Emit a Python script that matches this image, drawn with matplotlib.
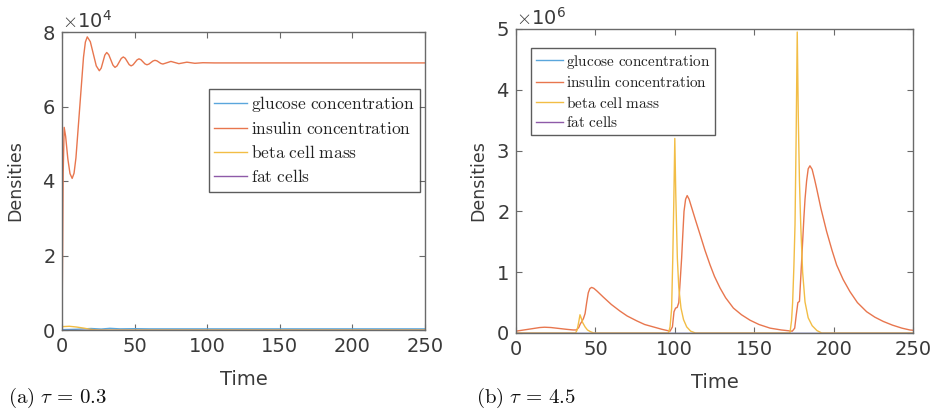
import matplotlib
matplotlib.use("Agg")
import matplotlib.pyplot as plt
from matplotlib.ticker import ScalarFormatter

plt.rcParams['mathtext.fontset'] = 'cm'
plt.rcParams['font.family'] = ['DejaVu Sans']

# ---------------- data: panel (a) tau = 0.3 ----------------
ta_ins = [0, 0.4, 0.8, 1.5, 2.5, 4.0, 5.5, 7.0, 8.3, 9.6, 12.2, 14.8, 16.1, 17.4,
          19.5, 21.55, 23.6, 25.7, 27.0, 28.25, 29.5, 30.8, 32.2, 33.65, 35.1, 36.5,
          37.9, 39.35, 40.8, 42.2, 43.55, 44.9, 46.25, 47.6, 48.95, 50.3, 51.65, 53.0,
          54.4, 55.75, 57.1, 58.5, 59.9, 61.25, 62.6, 64.0, 65.4, 66.75, 68.1, 69.5,
          72.25, 75.0, 77.75, 80.5, 83.25, 86.0, 88.75, 91.5, 97.0, 105.0, 250.0]
va_ins = [0, 20000, 42000, 54400, 52000, 46000, 42000, 40700, 42100, 46200, 59700, 73200, 77300, 78700,
          77400, 74150, 70900, 69600, 70300, 72050, 73800, 74500, 73900, 72500, 71100, 70500,
          70900, 71900, 72900, 73300, 72950, 72100, 71250, 70900, 71200, 71850, 72500, 72800,
          72550, 72000, 71450, 71200, 71400, 71800, 72200, 72400, 72250, 71900, 71550, 71400,
          71750, 72100, 71800, 71500, 71700, 71900, 71750, 71600, 71750, 71700, 71700]

ta_glu = [0, 10, 20, 27, 33, 40, 50, 60, 250]
va_glu = [100, 200, 400, 250, 450, 300, 350, 300, 300]

ta_beta = [0, 5, 10, 15, 20, 25, 250]
va_beta = [900, 1000, 800, 500, 150, 0, 0]

ta_fat = [0, 250]
va_fat = [0, 0]

# ---------------- data: panel (b) tau = 4.5 ----------------
tb_ins = [0, 5, 10, 15, 18, 22, 27, 32, 36, 38, 39.5, 40.5, 41.5, 42.5, 43.5, 44.5, 45.5,
          46.5, 47.6, 49, 51, 55, 60, 65.5, 70, 76, 81, 86.5, 92, 97,
          98.5, 99.5, 100.5, 101.5, 102.5, 103.5, 104.3, 105, 105.8, 106.8, 107.8, 109, 111,
          113, 115.9, 119, 122.2, 125, 128.5, 132, 136.9, 142, 147.4, 153, 160, 167, 174,
          175.5, 176.5, 177.5, 178.5, 179.5, 180.5, 181.3, 182, 183, 184, 185.1, 186.5, 188,
          189.3, 192, 195.6, 199, 201.9, 206, 210.3, 215, 220.8, 226, 231.3, 237, 243, 248, 250]
vb_ins = [0.03, 0.05, 0.07, 0.09, 0.095, 0.09, 0.075, 0.06, 0.05, 0.05, 0.09, 0.15, 0.19, 0.24, 0.32, 0.5, 0.66,
          0.73, 0.75, 0.735, 0.69, 0.59, 0.47, 0.36, 0.28, 0.2, 0.14, 0.1, 0.06, 0.03,
          0.1, 0.35, 0.41, 0.42, 0.5, 0.9, 1.23, 1.6, 2.0, 2.2, 2.26, 2.2, 2.03,
          1.86, 1.62, 1.36, 1.12, 0.93, 0.74, 0.58, 0.41, 0.3, 0.21, 0.14, 0.08, 0.05, 0.03,
          0.08, 0.3, 0.5, 0.52, 1.0, 1.5, 1.9, 2.2, 2.5, 2.7, 2.75, 2.69, 2.53,
          2.38, 2.05, 1.67, 1.36, 1.12, 0.88, 0.68, 0.5, 0.35, 0.26, 0.19, 0.13, 0.08, 0.05, 0.045]
vb_ins = [v * 1e6 for v in vb_ins]

tb_beta = [0, 37.5, 38.5, 39.5, 40.3, 41, 42, 43.5, 45, 47, 49,
           96, 97, 98, 98.7, 99.4, 100, 100.6, 101.6, 102.5, 103.9, 105.5, 107.5, 110, 113,
           172.5, 173.5, 174.2, 175, 175.7, 176.4, 177.1, 177.8, 178.5, 179.3, 180.5, 182, 184,
           186.5, 189.5, 192.5, 250]
vb_beta = [0, 0, 0.05, 0.18, 0.3, 0.25, 0.17, 0.1, 0.05, 0.02, 0,
           0, 0.1, 0.4, 1.2, 2.2, 3.2, 2.3, 1.23, 0.75, 0.41, 0.22, 0.1, 0.03, 0,
           0, 0.2, 0.5, 1.1, 1.78, 3.2, 4.95, 3.5, 2.5, 1.78, 1.0, 0.51, 0.25,
           0.12, 0.04, 0, 0]
vb_beta = [v * 1e6 for v in vb_beta]

tb_glu = [0, 250]
vb_glu = [0, 0]
tb_fat = [0, 250]
vb_fat = [0, 0]

labels = ['glucose concentration', 'insulin concentration', 'beta cell mass', 'fat cells']
colors = ['#5aa6dc', '#e8764e', '#f2bd45', '#8e5aa8']
captions = [r'$\mathrm{(a)}\ \tau\,=\,0.3$', r'$\mathrm{(b)}\ \tau\,=\,4.5$']

W, H = 931, 413
fig = plt.figure(figsize=(W / 100, H / 100), dpi=100)

def px_axes(l, t, r, b):
    return fig.add_axes([l / W, 1 - b / H, (r - l) / W, (b - t) / H])

axA = px_axes(62, 32, 425, 330)
axB = px_axes(516, 29, 913, 333)

lw = 1.0
for ax, series in [
    (axA, [(ta_glu, va_glu), (ta_ins, va_ins), (ta_beta, va_beta), (ta_fat, va_fat)]),
    (axB, [(tb_glu, vb_glu), (tb_ins, vb_ins), (tb_beta, vb_beta), (tb_fat, vb_fat)]),
]:
    for (t, v), c, lab in zip(series, colors, labels):
        ax.plot(t, v, color=c, lw=lw, label=r'$\mathrm{' + lab.replace(' ', r'\ ') + '}$')

axA.set_xlim(0, 250)
axA.set_ylim(0, 80000)
axA.set_yticks([0, 20000, 40000, 60000, 80000])
axB.set_xlim(0, 250)
axB.set_ylim(0, 5e6)
axB.set_yticks([0, 1e6, 2e6, 3e6, 4e6, 5e6])

spine_col = '#6a6a6a'
text_col = '#3a3a3a'
for ax in (axA, axB):
    ax.set_xticks([0, 50, 100, 150, 200, 250])
    fmt = ScalarFormatter(useMathText=True)
    fmt.set_powerlimits((0, 0))
    ax.yaxis.set_major_formatter(fmt)
    ax.tick_params(direction='in', top=True, right=True, length=4, width=0.8,
                   color=spine_col, labelsize=14, labelcolor=text_col, pad=5)
    for s in ax.spines.values():
        s.set_color(spine_col)
        s.set_linewidth(1.0)
    ax.yaxis.get_offset_text().set_fontsize(14)
    ax.yaxis.get_offset_text().set_color(text_col)
    ax.set_xlabel('Time', fontsize=14, color=text_col, labelpad=10)
    ax.set_ylabel('Densities', fontsize=12.5, color=text_col)

axA.yaxis.set_label_coords((24 - 62) / 363, 0.5)
axB.yaxis.set_label_coords((487 - 516) / 397, 0.5)

legA = axA.legend(loc='upper right', bbox_to_anchor=((420 - 62) / 363, (330 - 89) / 298),
                  fontsize=12.5, frameon=True, fancybox=False, handlelength=1.9,
                  handletextpad=0.2, labelspacing=0.35, borderpad=0.3, borderaxespad=0)
legB = axB.legend(loc='upper left', bbox_to_anchor=((531 - 516) / 397, (333 - 48) / 304),
                  fontsize=11, frameon=True, fancybox=False, handlelength=1.8,
                  handletextpad=0.2, labelspacing=0.3, borderpad=0.3, borderaxespad=0)
for leg in (legA, legB):
    fr = leg.get_frame()
    fr.set_edgecolor('#333333')
    fr.set_linewidth(1.0)
    for t in leg.get_texts():
        t.set_color('#222222')

fig.text(8 / W, 1 - 398 / H, captions[0], fontsize=15, va='center', ha='left', color='#111111')
fig.text(476 / W, 1 - 398 / H, captions[1], fontsize=15, va='center', ha='left', color='#111111')

fig.savefig('out.png', dpi=100)
